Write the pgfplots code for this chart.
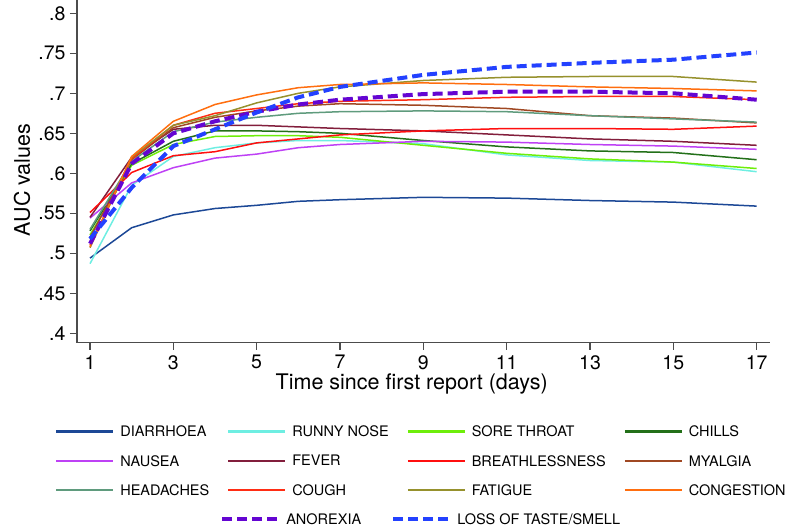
\documentclass[border=0pt]{standalone}
\usepackage{fontspec}
\setmainfont{TeX Gyre Heros}
\usepackage{pgfplots}
\pgfplotsset{compat=1.18}
\usepackage{pgfplotstable}

\definecolor{cDia}{RGB}{28,72,150}
\definecolor{cRun}{RGB}{110,238,226}
\definecolor{cSore}{RGB}{110,238,10}
\definecolor{cChi}{RGB}{35,112,25}
\definecolor{cNau}{RGB}{190,65,245}
\definecolor{cFev}{RGB}{130,30,60}
\definecolor{cBre}{RGB}{255,15,15}
\definecolor{cMya}{RGB}{160,72,35}
\definecolor{cHea}{RGB}{95,155,125}
\definecolor{cCou}{RGB}{255,45,20}
\definecolor{cFat}{RGB}{150,145,45}
\definecolor{cCon}{RGB}{255,110,15}
\definecolor{cAno}{RGB}{100,5,210}
\definecolor{cLos}{RGB}{35,65,255}

\pgfplotstableread{
day dia run sore chi nau fev bre mya hea cou fat con ano los
1  .494 .487 .523 .528 .544 .545 .551 .520 .530 .510 .507 .508 .512 .518
2  .532 .585 .610 .612 .588 .620 .601 .617 .615 .618 .620 .621 .612 .582
3  .548 .621 .636 .640 .607 .655 .622 .657 .652 .660 .660 .665 .650 .634
4  .556 .632 .646 .653 .619 .660 .627 .670 .664 .675 .672 .686 .665 .655
5  .560 .638 .647 .653 .624 .660 .638 .678 .670 .681 .688 .698 .677 .676
6  .565 .641 .647 .652 .632 .658 .643 .684 .675 .687 .700 .707 .686 .695
7  .567 .641 .645 .650 .636 .656 .648 .687 .677 .690 .708 .711 .692 .708
9  .570 .637 .635 .641 .640 .653 .653 .685 .678 .692 .716 .713 .699 .723
11 .569 .623 .625 .633 .639 .648 .656 .681 .677 .695 .720 .711 .702 .733
13 .566 .616 .618 .628 .636 .643 .656 .672 .672 .696 .721 .708 .702 .738
15 .564 .614 .614 .626 .634 .640 .655 .669 .668 .696 .721 .706 .700 .742
17 .559 .602 .606 .617 .630 .635 .659 .663 .664 .692 .714 .703 .692 .751
}\data

\tikzset{
  sol/.style={line width=1.5bp},
  dsh/.style={line width=4bp, dash pattern=on 10bp off 5bp},
}
% legend samples typeset as coloured rules
\newcommand{\lgs}[1]{\textcolor{#1}{\rule[4bp]{57bp}{2.4bp}}\hspace*{7bp}}
\newcommand{\lgd}[1]{\textcolor{#1}{\rule[3.3bp]{10bp}{4bp}\hspace*{5bp}\rule[3.3bp]{10bp}{4bp}\hspace*{5bp}\rule[3.3bp]{10bp}{4bp}\hspace*{5bp}\rule[3.3bp]{10bp}{4bp}}\hspace*{9bp}}
\newcommand{\gp}{\hspace*{15bp}}

\begin{document}
\begin{tikzpicture}
\useasboundingbox (-77bp,-188.3bp) rectangle (715bp,342.7bp);
\begin{axis}[
  at={(0,0)}, anchor=south west,
  scale only axis, width=693bp, height=342.7bp,
  xmin=0.688, xmax=17.32, ymin=0.3883, ymax=0.8166,
  axis x line*=bottom, axis y line*=left,
  axis line style={line width=1.2bp, black!70},
  tick style={line width=1.2bp, black!70},
  tick align=outside, major tick length=7bp,
  xtick={1,3,5,7,9,11,13,15,17},
  xticklabels={1,3,5,7,9,11,13,15,17},
  ytick={.4,.45,.5,.55,.6,.65,.7,.75,.8},
  yticklabels={.4,.45,.5,.55,.6,.65,.7,.75,.8},
  ticklabel style={font=\fontsize{19.5bp}{22bp}\selectfont},
  yticklabel style={xshift=-1bp},
  xticklabel style={yshift=-2bp},
  xlabel={Time since first report (days)},
  ylabel={AUC values},
  label style={font=\fontsize{21.5bp}{24bp}\selectfont},
  x label style={at={(axis description cs:0.483,0)}, anchor=center, yshift=-41bp},
  y label style={at={(axis description cs:-0.0794,0.475)}, anchor=center},
  legend columns=4,
  legend cell align=left,
  legend style={draw=none, fill=none, at={(axis description cs:0.5,0)}, anchor=north,
    yshift=-79bp, xshift=-2.5bp,
    font=\fontsize{14.5bp}{16bp}\selectfont,
    nodes={inner xsep=2bp, inner ysep=2bp},
    /tikz/column sep=0bp,
    /tikz/row sep=13bp},
  legend image code/.code={},
]
\addplot[cDia, sol, forget plot] table[x=day,y=dia]{\data};
\addplot[cRun, sol, forget plot] table[x=day,y=run]{\data};
\addplot[cSore, sol, forget plot] table[x=day,y=sore]{\data};
\addplot[cChi, sol, forget plot] table[x=day,y=chi]{\data};
\addplot[cNau, sol, forget plot] table[x=day,y=nau]{\data};
\addplot[cFev, sol, forget plot] table[x=day,y=fev]{\data};
\addplot[cBre, sol, forget plot] table[x=day,y=bre]{\data};
\addplot[cMya, sol, forget plot] table[x=day,y=mya]{\data};
\addplot[cHea, sol, forget plot] table[x=day,y=hea]{\data};
\addplot[cCou, sol, forget plot] table[x=day,y=cou]{\data};
\addplot[cFat, sol, forget plot] table[x=day,y=fat]{\data};
\addplot[cCon, sol, forget plot] table[x=day,y=con]{\data};
\addplot[cAno, dsh, forget plot] table[x=day,y=ano]{\data};
\addplot[cLos, dsh, forget plot] table[x=day,y=los]{\data};

\addlegendimage{}\addlegendentry{\lgs{cDia}DIARRHOEA\gp}
\addlegendimage{}\addlegendentry{\lgs{cRun}RUNNY NOSE\gp}
\addlegendimage{}\addlegendentry{\lgs{cSore}SORE THROAT\gp}
\addlegendimage{}\addlegendentry{\lgs{cChi}CHILLS}
\addlegendimage{}\addlegendentry{\lgs{cNau}NAUSEA\gp}
\addlegendimage{}\addlegendentry{\lgs{cFev}FEVER\gp}
\addlegendimage{}\addlegendentry{\lgs{cBre}BREATHLESSNESS\gp}
\addlegendimage{}\addlegendentry{\lgs{cMya}MYALGIA}
\addlegendimage{}\addlegendentry{\lgs{cHea}HEADACHES\gp}
\addlegendimage{}\addlegendentry{\lgs{cCou}COUGH\gp}
\addlegendimage{}\addlegendentry{\lgs{cFat}FATIGUE\gp}
\addlegendimage{}\addlegendentry{\lgs{cCon}CONGESTION}
\addlegendimage{}\addlegendentry{}
\addlegendimage{}\addlegendentry{\hspace*{-6bp}\lgd{cAno}ANOREXIA}
\addlegendimage{}\addlegendentry{\hspace*{-26bp}\makebox[0pt][l]{\lgd{cLos}LOSS OF TASTE/SMELL}}
\end{axis}
\end{tikzpicture}
\end{document}
